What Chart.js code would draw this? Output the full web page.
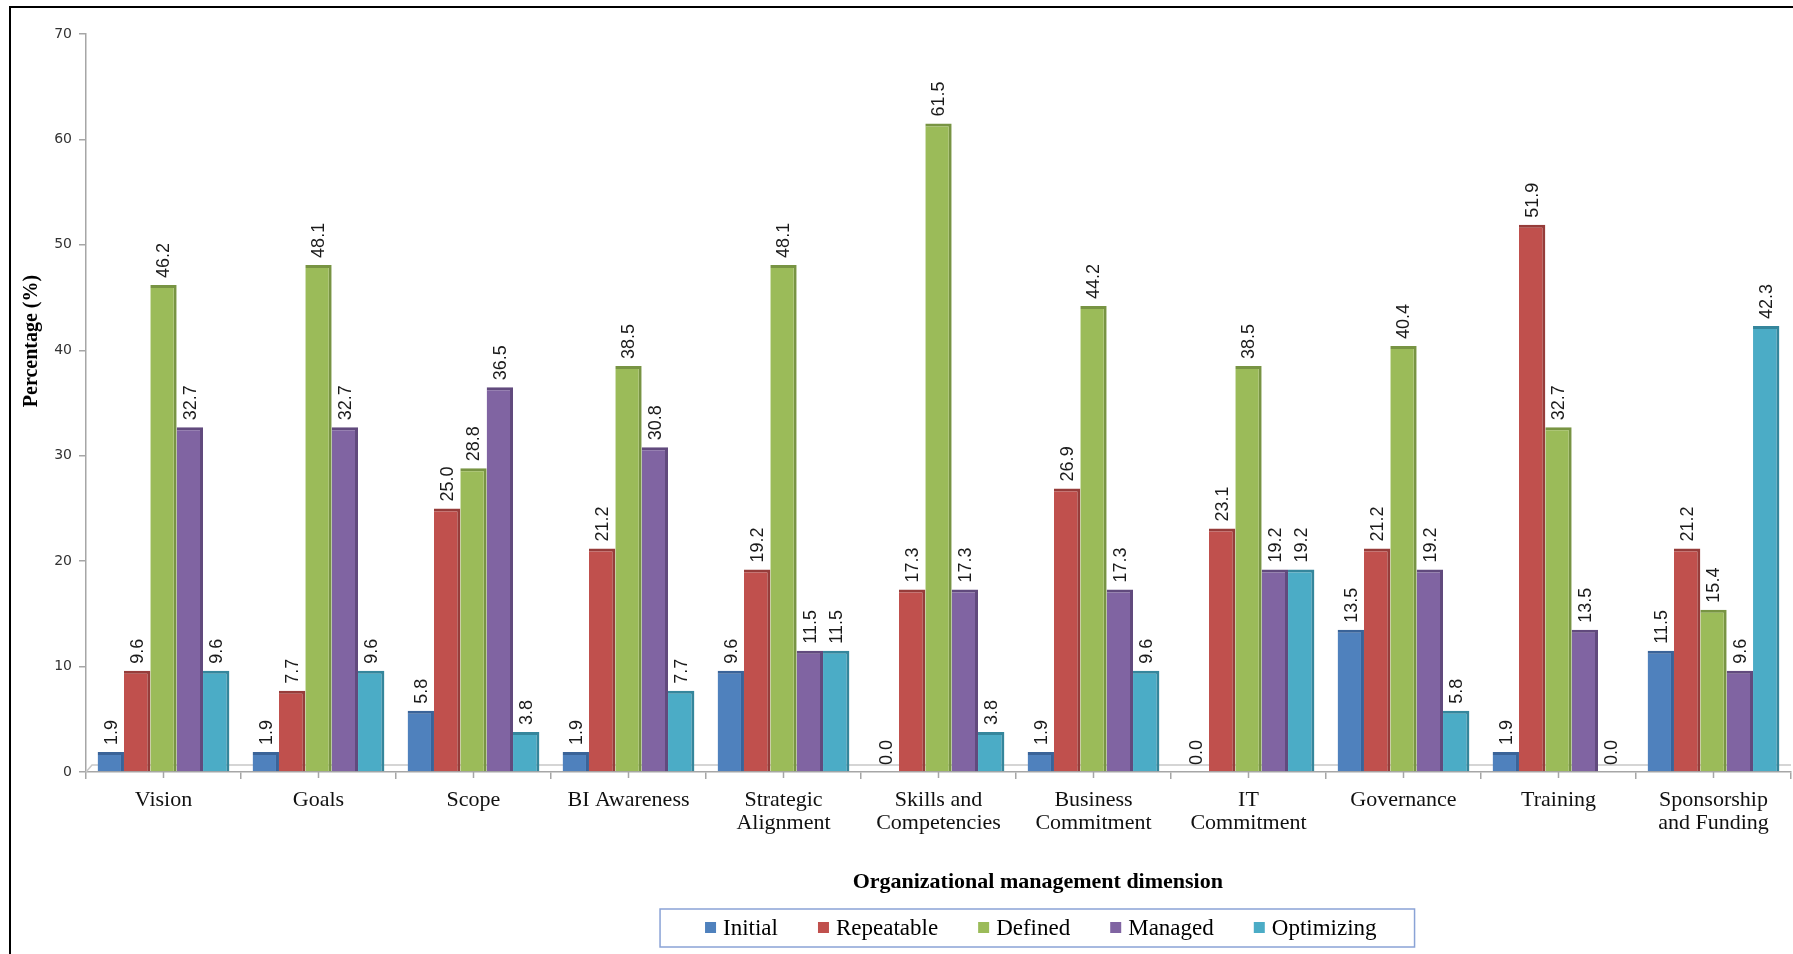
<!DOCTYPE html>
<html>
<head>
<meta charset="utf-8">
<script src="https://cdn.jsdelivr.net/npm/chart.js@4/dist/chart.umd.min.js"></script>
<style>
  html, body { margin: 0; padding: 0; background: #fff; }
  #wrap { position: relative; width: 1793px; height: 954px; }
</style>
</head>
<body>
<div id="wrap"><canvas id="myChart"></canvas></div>
<script>
// categories (multi-line where the original wraps)
var dimensions = [
  'Vision', 'Goals', 'Scope', 'BI Awareness', ['Strategic', 'Alignment'],
  ['Skills and', 'Competencies'], ['Business', 'Commitment'], ['IT', 'Commitment'],
  'Governance', 'Training', ['Sponsorship', 'and Funding']
];

// percentages per maturity level
var initial    = [1.9, 1.9, 5.8, 1.9, 9.6, 0.0, 1.9, 0.0, 13.5, 1.9, 11.5];
var repeatable = [9.6, 7.7, 25.0, 21.2, 19.2, 17.3, 26.9, 23.1, 21.2, 51.9, 21.2];
var defined    = [46.2, 48.1, 28.8, 38.5, 48.1, 61.5, 44.2, 38.5, 40.4, 32.7, 15.4];
var managed    = [32.7, 32.7, 36.5, 30.8, 11.5, 17.3, 17.3, 19.2, 19.2, 13.5, 9.6];
var optimizing = [9.6, 9.6, 3.8, 7.7, 11.5, 3.8, 9.6, 19.2, 5.8, 0.0, 42.3];

var yTicks = [0, 10, 20, 30, 40, 50, 60, 70];

var xTitle = 'Organizational management dimension';
var yTitle = 'Percentage (%)';

var serif = '"Liberation Serif", "Times New Roman", serif';

function series(label, data, color, edge) {
  return {
    label: label,
    data: data,
    backgroundColor: color,
    borderColor: edge,
    borderWidth: { top: 3, right: 3, left: 0, bottom: 0 },
    borderSkipped: 'bottom',
    categoryPercentage: 0.85,
    barPercentage: 1.0
  };
}

// frame, floor, titles, value labels and the boxed legend
var decorations = {
  id: 'decorations',
  beforeDraw: function (chart) {
    var ctx = chart.ctx;
    ctx.save();
    ctx.fillStyle = '#fff';
    ctx.fillRect(0, 0, chart.width, chart.height);
    ctx.strokeStyle = '#000';
    ctx.lineWidth = 2;
    ctx.beginPath();
    ctx.moveTo(10, chart.height);
    ctx.lineTo(10, 7);
    ctx.lineTo(chart.width, 7);
    ctx.stroke();
    ctx.restore();
  },
  beforeDatasetsDraw: function (chart) {
    var ctx = chart.ctx, a = chart.chartArea, x = chart.scales.x;
    ctx.save();
    ctx.strokeStyle = '#c8c8c8';
    ctx.lineWidth = 1.5;
    ctx.beginPath();
    ctx.moveTo(a.left, a.bottom);
    ctx.lineTo(a.left + 6, a.bottom - 7);
    ctx.lineTo(a.right, a.bottom - 7);
    ctx.stroke();
    ctx.strokeStyle = '#a6a6a6';
    ctx.beginPath();
    for (var i = 0; i < dimensions.length; i++) {
      var px = x.getPixelForValue(i);
      ctx.moveTo(px, a.bottom);
      ctx.lineTo(px, a.bottom + 6);
    }
    ctx.stroke();
    ctx.restore();
  },
  afterDatasetsDraw: function (chart) {
    var ctx = chart.ctx;
    ctx.save();
    ctx.font = '18px "Liberation Sans", Arial, sans-serif';
    ctx.fillStyle = '#1a1a1a';
    ctx.textAlign = 'left';
    ctx.textBaseline = 'middle';
    chart.data.datasets.forEach(function (ds, di) {
      chart.getDatasetMeta(di).data.forEach(function (bar, i) {
        ctx.save();
        ctx.translate(bar.x + 1, bar.y - 7);
        ctx.rotate(-Math.PI / 2);
        ctx.fillText(ds.data[i].toFixed(1), 0, 0);
        ctx.restore();
      });
    });
    ctx.restore();
  },
  afterDraw: function (chart) {
    var ctx = chart.ctx, a = chart.chartArea;
    var mid = a.left + a.width * 0.56;
    ctx.save();

    // y title
    ctx.font = 'bold 20px ' + serif;
    ctx.fillStyle = '#000';
    ctx.textAlign = 'center';
    ctx.textBaseline = 'middle';
    ctx.translate(a.left - 54, a.top + a.height * 0.416);
    ctx.rotate(-Math.PI / 2);
    ctx.fillText(yTitle, 0, 0);
    ctx.setTransform(1, 0, 0, 1, 0, 0);

    // x title
    ctx.font = 'bold 22px ' + serif;
    ctx.fillText(xTitle, mid - 3, a.bottom + 110);

    // legend
    ctx.font = '23px ' + serif;
    var items = chart.data.datasets;
    var box = 11, gapText = 7, gapItem = 40;
    var widths = items.map(function (d) { return ctx.measureText(d.label).width; });
    var total = 0;
    widths.forEach(function (w, i) { total += box + gapText + w + (i ? gapItem : 0); });
    var cx = mid - total / 2, cy = a.bottom + 156;
    ctx.strokeStyle = '#8aa3d6';
    ctx.lineWidth = 1.5;
    ctx.strokeRect(cx - 45, cy - 19, total + 83, 38);
    ctx.textAlign = 'left';
    items.forEach(function (d, i) {
      ctx.fillStyle = d.backgroundColor;
      ctx.fillRect(cx, cy - 6, box, box);
      ctx.fillStyle = '#000';
      ctx.fillText(d.label, cx + box + gapText, cy + 1);
      cx += box + gapText + widths[i] + gapItem;
    });
    ctx.restore();
  }
};

var ctx = document.getElementById('myChart');
var chart = new Chart(ctx, {
  type: 'bar',
  data: {
    labels: dimensions,
    datasets: [
      series('Initial', initial, '#4F81BD', '#3a6398'),
      series('Repeatable', repeatable, '#C0504D', '#963c3a'),
      series('Defined', defined, '#9BBB59', '#789443'),
      series('Managed', managed, '#8064A2', '#614a7d'),
      series('Optimizing', optimizing, '#4BACC6', '#35869c')
    ]
  },
  options: {
    responsive: true,
    maintainAspectRatio: false,
    animation: false,
    layout: { padding: { top: 34, right: 2, bottom: 0, left: 0 } },
    plugins: {
      legend: { display: false },
      tooltip: { enabled: false }
    },
    scales: {
      x: {
        afterFit: function (scale) { scale.height = 182; },
        grid: {
          offset: true,
          drawOnChartArea: false,
          drawTicks: true,
          tickLength: 7,
          color: '#a6a6a6',
          lineWidth: 1.5
        },
        border: { color: '#a6a6a6', width: 1.5 },
        ticks: {
          autoSkip: false,
          maxRotation: 0,
          padding: 10,
          color: '#111',
          font: { family: serif, size: 22, lineHeight: 1.05 }
        }
      },
      y: {
        min: 0,
        max: 70,
        afterFit: function (scale) { scale.width = 86; },
        afterBuildTicks: function (scale) {
          scale.ticks = yTicks.map(function (v) { return { value: v }; });
        },
        grid: {
          drawOnChartArea: false,
          drawTicks: true,
          tickLength: 7,
          color: '#a6a6a6',
          lineWidth: 1.5
        },
        border: { color: '#a6a6a6', width: 1.5 },
        ticks: {
          padding: 7,
          color: '#333',
          font: { family: '"DejaVu Sans", Tahoma, sans-serif', size: 14 }
        }
      }
    }
  },
  plugins: [decorations]
});
</script>
</body>
</html>
